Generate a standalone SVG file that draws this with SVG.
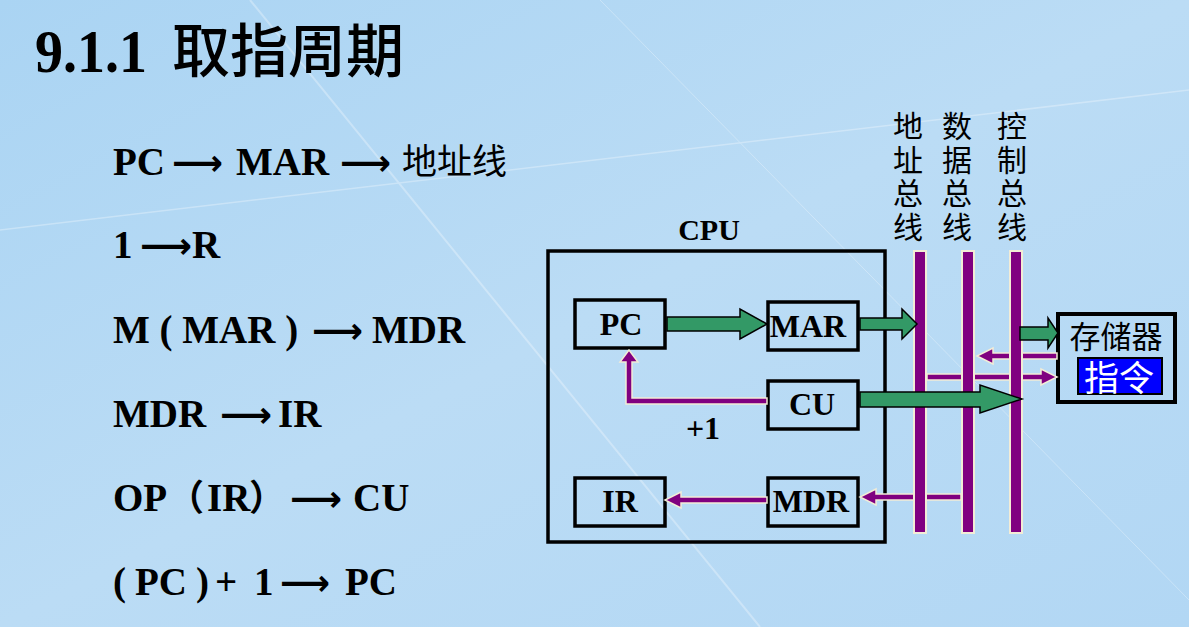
<svg xmlns="http://www.w3.org/2000/svg" width="1189" height="627" viewBox="0 0 1189 627">
<defs>
<linearGradient id="bg" x1="0" y1="0" x2="1" y2="1">
<stop offset="0" stop-color="#aad4f3"/>
<stop offset="0.5" stop-color="#bbdcf5"/>
<stop offset="1" stop-color="#b2d7f4"/>
</linearGradient>
<style>
.t{font-family:"Liberation Serif","Noto Sans CJK SC",serif;font-weight:bold;fill:#000}
.cj{font-family:"Noto Sans CJK SC",sans-serif;font-weight:normal;fill:#000}
.mem{font-family:"Liberation Sans","Noto Sans CJK SC",sans-serif;font-weight:normal;text-anchor:middle}
.ar{font-family:"DejaVu Sans",sans-serif;font-weight:bold;fill:#000}
.box{fill:none;stroke:#000;stroke-width:3.5}
.g{fill:#339966;stroke:#000;stroke-width:1.5;stroke-linejoin:miter}
.p{fill:#800080;stroke:#f2ecd6;stroke-width:1.5}
.bus{fill:#800080;stroke:#f2ecd6;stroke-width:2}
.lbl{font-family:"Liberation Serif",serif;font-weight:bold;font-size:32px;text-anchor:middle;fill:#000}
.vt{font-family:"Noto Sans CJK SC",sans-serif;font-size:30px;letter-spacing:3.5px;writing-mode:vertical-rl;fill:#000}
</style>
</defs>
<rect width="1189" height="627" fill="url(#bg)"/>
<g opacity="0.3" stroke="#ffffff" fill="none">
<path d="M250 0 L760 627" stroke-width="2"/>
<path d="M0 230 L1189 90" stroke-width="1.5"/>
<path d="M600 0 L1189 600" stroke-width="1"/>
</g>

<g id="title">
<text class="t" x="35" y="72" font-size="62"><tspan textLength="112" lengthAdjust="spacingAndGlyphs">9.1.1</tspan></text>
<text class="cj" x="172" y="72" font-size="58" style="font-weight:500">取指周期</text>
</g>

<g id="steps">
<text class="t" x="113" y="175" font-size="39">PC</text>
<text class="ar" x="172" y="175" font-size="36" textLength="51" lengthAdjust="spacingAndGlyphs">⟶</text>
<text class="t" x="236" y="175" font-size="39">MAR</text>
<text class="ar" x="340" y="175" font-size="36" textLength="51" lengthAdjust="spacingAndGlyphs">⟶</text>
<text class="cj" x="402" y="174" font-size="35">地址线</text>

<text class="t" x="113" y="258" font-size="39">1</text>
<text class="ar" x="140" y="258" font-size="36" textLength="52" lengthAdjust="spacingAndGlyphs">⟶</text>
<text class="t" x="192" y="258" font-size="39">R</text>

<text class="t" x="113" y="343" font-size="39">M ( MAR )</text>
<text class="ar" x="312" y="343" font-size="36" textLength="51" lengthAdjust="spacingAndGlyphs">⟶</text>
<text class="t" x="372" y="343" font-size="39">MDR</text>

<text class="t" x="113" y="427" font-size="39">MDR</text>
<text class="ar" x="220" y="427" font-size="36" textLength="52" lengthAdjust="spacingAndGlyphs">⟶</text>
<text class="t" x="278" y="427" font-size="39">IR</text>

<text class="t" x="113" y="511" font-size="39">OP</text>
<text class="t" x="168" y="511" font-size="36" style="font-family:'Noto Sans CJK SC',sans-serif">（</text>
<text class="t" x="207" y="511" font-size="39">IR</text>
<text class="t" x="249" y="511" font-size="36" style="font-family:'Noto Sans CJK SC',sans-serif">）</text>
<text class="ar" x="290" y="511" font-size="36" textLength="52" lengthAdjust="spacingAndGlyphs">⟶</text>
<text class="t" x="353" y="511" font-size="39">CU</text>

<text class="t" x="113" y="595" font-size="39">(<tspan x="135">PC</tspan><tspan x="196">)</tspan><tspan x="215">+</tspan><tspan x="254">1</tspan></text>
<text class="ar" x="280" y="595" font-size="36" textLength="50" lengthAdjust="spacingAndGlyphs">⟶</text>
<text class="t" x="345" y="595" font-size="39">PC</text>
</g>

<g id="cpu">
<rect class="box" x="548" y="251" width="337" height="291"/>
<text class="t" x="709" y="240" font-size="30" text-anchor="middle">CPU</text>
</g>
<g id="pc"><rect class="box" x="575" y="300" width="90" height="48"/><text class="lbl" x="621" y="335">PC</text></g>
<g id="mar"><rect class="box" x="768" y="302" width="90" height="48"/><text class="lbl" x="808" y="337">MAR</text></g>
<g id="cu"><rect class="box" x="768" y="381" width="90" height="48"/><text class="lbl" x="812" y="415">CU</text></g>
<g id="ir"><rect class="box" x="575" y="478" width="90" height="48"/><text class="lbl" x="620" y="512">IR</text></g>
<g id="mdr"><rect class="box" x="768" y="478" width="90" height="48"/><text class="lbl" x="811" y="512">MDR</text></g>
<g id="plus1"><text class="lbl" x="703" y="439" font-size="31">+1</text></g>

<g id="memory">
<rect x="1058" y="314" width="117" height="88" fill="none" stroke="#000" stroke-width="4"/>
<rect x="1078" y="358" width="84" height="36" fill="#0000ff" stroke="#000" stroke-width="2"/>
<text class="mem" x="1116" y="348" font-size="31" fill="#000">存储器</text>
<text class="mem" x="1119" y="391" font-size="35" fill="#ffffff">指令</text>
</g>

<g id="connectors">
<path class="p" d="M767 398 L632 398 L632 362 L638 362 L629 350 L620 362 L626 362 L626 404 L767 404 Z"/>
<path class="p" d="M767 497 L681 497 L681 492 L665 500 L681 508 L681 503 L767 503 Z"/>
<path class="p" d="M961 494 L876 494 L876 489 L860 497 L876 505 L876 500 L961 500 Z"/>
<path class="p" d="M1057 353 L993 353 L993 348 L977 356 L993 364 L993 359 L1057 359 Z"/>
<path class="p" d="M927 374 L1041 374 L1041 369 L1057 377 L1041 385 L1041 380 L927 380 Z"/>
</g>

<g id="buses">
<rect class="bus" x="914" y="251" width="12" height="282"/>
<rect class="bus" x="962" y="251" width="12" height="282"/>
<rect class="bus" x="1010" y="251" width="12" height="282"/>
<text class="vt" x="908" y="111">地址总线</text>
<text class="vt" x="957" y="111">数据总线</text>
<text class="vt" x="1012" y="111">控制总线</text>
</g>

<g id="green-connectors">
<path class="g" d="M667 317 L740 317 L740 309 L767 324 L740 339 L740 331 L667 331 Z"/>
<path class="g" d="M860 318 L902 318 L902 309 L917 324 L902 339 L902 330 L860 330 Z"/>
<path class="g" d="M860 392 L980 392 L980 385 L1022 399 L980 413 L980 407 L860 407 Z"/>
<path class="g" d="M1020 327 L1048 327 L1048 318 L1058 333 L1048 348 L1048 340 L1020 340 Z"/>
</g>
</svg>
